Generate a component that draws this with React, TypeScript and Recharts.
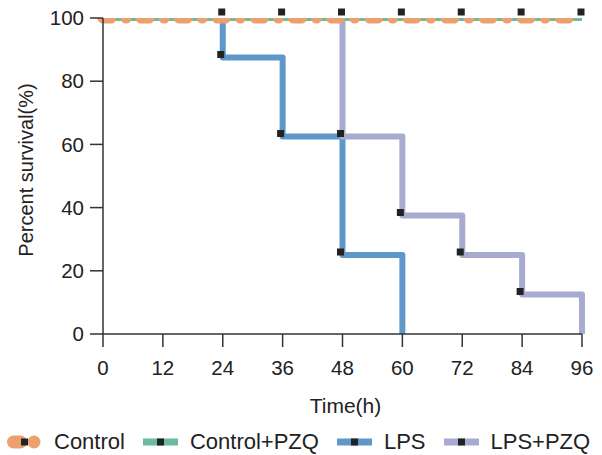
import { LineChart, Line, XAxis, YAxis, Legend, Label } from "recharts";

const timeTicks = [0, 12, 24, 36, 48, 60, 72, 84, 96];
const survivalTicks = [0, 20, 40, 60, 80, 100];

// survival curves (time in h, percent survival)
const controlTimes = [0, 96];
const controlValues = [100, 100];
const controlPzqTimes = [0, 96];
const controlPzqValues = [100, 100];
const lpsTimes = [0, 24, 36, 48, 60];
const lpsValues = [100, 87.5, 62.5, 25, 0];
const lpsPzqTimes = [0, 48, 60, 72, 84, 96];
const lpsPzqValues = [100, 62.5, 37.5, 25, 12.5, 0];

// censor / event markers
const topMarkTimes = [24, 36, 48, 60, 72, 84, 96];
const lpsMarkTimes = [24, 36, 48];
const lpsMarkValues = [87.5, 62.5, 25];
const lpsPzqMarkTimes = [48, 60, 72, 84];
const lpsPzqMarkValues = [62.5, 37.5, 25, 12.5];

const toRows = (t: number[], v: number[]) => t.map((time, i) => ({ time, v: v[i] }));

const controlData = toRows(controlTimes, controlValues);
const controlPzqData = toRows(controlPzqTimes, controlPzqValues);
const lpsData = toRows(lpsTimes, lpsValues);
const lpsPzqData = toRows(lpsPzqTimes, lpsPzqValues);
const topMarks = topMarkTimes.map((time) => ({ time, v: 100 }));
const stepMarks = [...toRows(lpsMarkTimes, lpsMarkValues), ...toRows(lpsPzqMarkTimes, lpsPzqMarkValues)];

const ORANGE = "#eba06d";
const TEAL = "#6dbb9e";
const BLUE = "#6097c9";
const LAVENDER = "#a7abd0";
const INK = "#222";
const FONT = "'Liberation Sans', Arial, sans-serif";

const makeSquare = (dx: number, dy: number) => (props: any) => {
  const { cx, cy, key } = props;
  if (cx == null || cy == null) return <g key={key} />;
  return <rect key={key} x={cx - 3.5 + dx} y={cy - 3.5 + dy} width={7} height={7} fill={INK} />;
};

const YTitle = ({ viewBox }: any) => {
  const cx = viewBox.x + 26;
  const cy = viewBox.y + viewBox.height / 2 - 6;
  return (
    <text
      x={cx}
      y={cy}
      transform={`rotate(-90 ${cx} ${cy})`}
      textAnchor="middle"
      dominantBaseline="central"
      fontSize={20}
      fill={INK}
      fontFamily={FONT}
    >
      Percent survival(%)
    </text>
  );
};

const legendItems = [
  { name: "Control", color: ORANGE, dotted: true },
  { name: "Control+PZQ", color: TEAL, dotted: false },
  { name: "LPS", color: BLUE, dotted: false },
  { name: "LPS+PZQ", color: LAVENDER, dotted: false },
];

const renderLegend = () => (
  <div style={{ display: "flex", alignItems: "center", height: 26, paddingLeft: 7, fontFamily: FONT }}>
    {legendItems.map((it) => (
      <div key={it.name} style={{ display: "flex", alignItems: "center", marginRight: 18 }}>
        <svg width={35} height={14} style={{ marginRight: 12 }}>
          {it.dotted ? (
            <>
              <rect x={0} y={0.5} width={20} height={13} rx={6.5} fill={it.color} />
              <circle cx={27} cy={7} r={6.5} fill={it.color} />
            </>
          ) : (
            <rect x={0} y={3.5} width={35} height={7} fill={it.color} />
          )}
          <rect x={14} y={3.5} width={7} height={7} fill={INK} />
        </svg>
        <span style={{ fontSize: 22, color: INK }}>{it.name}</span>
      </div>
    ))}
  </div>
);

export default function App() {
  return (
    <div style={{ position: "absolute", left: 0, top: 0, background: "#fff" }}>
      <LineChart width={602} height={455} margin={{ top: 18, right: 20, left: 0, bottom: 0 }}>
        <XAxis
          dataKey="time"
          type="number"
          domain={[0, 96]}
          ticks={timeTicks}
          height={95}
          tickSize={13}
          tickMargin={13}
          axisLine={{ stroke: "#333", strokeWidth: 1.5 }}
          tickLine={{ stroke: "#333", strokeWidth: 1.5 }}
          tick={{ fill: INK, fontSize: 20.5, fontFamily: FONT }}
          label={{ value: "Time(h)", position: "insideBottom", offset: 16, dx: 3, fill: INK, fontSize: 21, fontFamily: FONT }}
        />
        <YAxis
          yAxisId="clip"
          type="number"
          domain={[0, 100]}
          allowDataOverflow
          ticks={survivalTicks}
          width={103}
          tickSize={13}
          tickMargin={6}
          axisLine={{ stroke: "#333", strokeWidth: 1.5 }}
          tickLine={{ stroke: "#333", strokeWidth: 1.5 }}
          tick={{ fill: INK, fontSize: 20.5, fontFamily: FONT }}
        >
          <Label content={YTitle} />
        </YAxis>
        <YAxis yAxisId="free" type="number" domain={[0, 100]} hide />
        <Legend verticalAlign="bottom" height={26} content={renderLegend} />

        <Line
          yAxisId="clip"
          data={lpsData}
          dataKey="v"
          type="stepAfter"
          stroke={BLUE}
          strokeWidth={6}
          strokeLinejoin="round"
          dot={false}
          activeDot={false}
          isAnimationActive={false}
        />
        <Line
          yAxisId="clip"
          data={lpsPzqData}
          dataKey="v"
          type="stepAfter"
          stroke={LAVENDER}
          strokeWidth={6}
          strokeLinejoin="round"
          dot={false}
          activeDot={false}
          isAnimationActive={false}
        />
        <Line
          yAxisId="clip"
          data={controlPzqData}
          dataKey="v"
          type="stepAfter"
          stroke={TEAL}
          strokeWidth={6}
          dot={false}
          activeDot={false}
          isAnimationActive={false}
        />
        <Line
          yAxisId="clip"
          data={controlData}
          dataKey="v"
          type="stepAfter"
          stroke={ORANGE}
          strokeWidth={11}
          strokeDasharray="8 15 0.1 15"
          strokeLinecap="round"
          dot={false}
          activeDot={false}
          isAnimationActive={false}
        />

        <Line
          yAxisId="free"
          data={topMarks}
          dataKey="v"
          stroke="none"
          dot={makeSquare(-1, -6)}
          activeDot={false}
          legendType="none"
          isAnimationActive={false}
        />
        <Line
          yAxisId="free"
          data={stepMarks}
          dataKey="v"
          stroke="none"
          dot={makeSquare(-2, -3)}
          activeDot={false}
          legendType="none"
          isAnimationActive={false}
        />
      </LineChart>
    </div>
  );
}
